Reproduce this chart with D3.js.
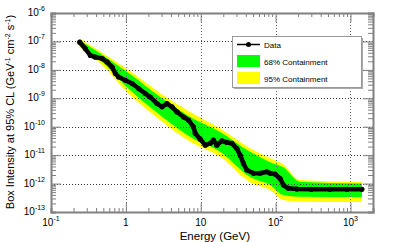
<!DOCTYPE html>
<html>
<head>
<meta charset="utf-8">
<script src="https://cdn.jsdelivr.net/npm/d3@7"></script>
<style>
  body { margin: 0; background: #fff; }
  text { font-family: "Liberation Sans", Arial, sans-serif; }
</style>
</head>
<body>
<div id="chart"></div>
<script>
// data points (energy in GeV, intensity)
var energy = [0.242, 0.288, 0.336, 0.392, 0.482, 0.561, 0.655, 0.724, 0.80, 0.985,
  1.21, 1.48, 1.82, 2.12, 2.61, 3.04, 3.54, 4.13, 4.82, 5.9,
  6.88, 8.0, 8.45, 9.85, 11.5, 13.4, 14.8, 16.4, 19.2, 22.3,
  26.1, 30.4, 33.6, 37.2, 41.3, 50.6, 62.1, 76.3, 84.5, 98.4,
  115, 127, 148, 192, 300, 533, 900, 1420]
var intensity = [9.4e-8, 5.5e-8, 3.2e-8, 2.8e-8, 2.5e-8, 1.9e-8, 1.25e-8, 7.4e-9, 5.6e-9, 4.3e-9,
  3.3e-9, 2.2e-9, 1.46e-9, 1.1e-9, 6.5e-10, 5.0e-10, 6.5e-10, 5.0e-10, 3.3e-10, 2.2e-10,
  1.7e-10, 9.8e-11, 5.8e-11, 3.6e-11, 2.25e-11, 2.6e-11, 3.4e-11, 2.25e-11, 3.2e-11, 2.8e-11,
  2.6e-11, 1.7e-11, 1.0e-11, 5.1e-12, 3.0e-12, 2.3e-12, 2.3e-12, 2.6e-12, 2.3e-12, 2.15e-12,
  1.5e-12, 8.9e-13, 6.8e-13, 6.4e-13, 6.3e-13, 6.25e-13, 6.25e-13, 6.25e-13]

// containment bands
var bandEnergy = [0.24, 0.457, 1.148, 2.884, 7.24, 18.2, 45.7, 84.5, 126, 212, 1420]
var yellowHi = [1.27e-7, 4.46e-8, 8.85e-9, 1.5e-9, 3.3e-10, 8.6e-11, 1.76e-11, 7.85e-12, 4.83e-12, 1.33e-12, 1.13e-12]
var greenHi  = [1.13e-7, 3.79e-8, 6.95e-9, 1.11e-9, 2.21e-10, 6.58e-11, 1.31e-11, 5.68e-12, 3.79e-12, 1.16e-12, 1.0e-12]
var greenLo  = [7.24e-8, 2.15e-8, 1.91e-9, 2.54e-10, 4.38e-11, 1.31e-11, 1.7e-12, 8.85e-13, 3.94e-13, 3.44e-13, 3.36e-13]
var yellowLo = [6.15e-8, 1.69e-8, 1.27e-9, 1.69e-10, 2.93e-11, 8.7e-12, 1.1e-12, 5.9e-13, 2.64e-13, 2.3e-13, 2.24e-13]

var xTicks = [0.1, 1, 10, 100, 1000]
var xLabels = [["10", "-1"], ["1", ""], ["10", ""], ["10", "2"], ["10", "3"]]
var yTicks = [1e-6, 1e-7, 1e-8, 1e-9, 1e-10, 1e-11, 1e-12, 1e-13]
var yLabels = ["-6", "-7", "-8", "-9", "-10", "-11", "-12", "-13"]
var legendNames = ["Data", "68% Containment", "95% Containment"]

var W = 415, H = 242
var pL = 51, pR = 373, pT = 13, pB = 212

var svg = d3.select("#chart").append("svg")
  .attr("width", W).attr("height", H)

var x = d3.scaleLog().domain([0.1, 2000]).range([pL, pR])
var y = d3.scaleLog().domain([1e-13, 1e-6]).range([pB, pT])

// bands
var rows = bandEnergy.map(function(e, i) {
  return {e: e, yh: yellowHi[i], gh: greenHi[i], gl: greenLo[i], yl: yellowLo[i]}
})
var area = function(hi, lo) {
  return d3.area().curve(d3.curveMonotoneX)
    .x(function(d) { return x(d.e) })
    .y0(function(d) { return y(d[lo]) })
    .y1(function(d) { return y(d[hi]) })
}
svg.append("path").datum(rows).attr("d", area("yh", "yl")).attr("fill", "#ffff00")
svg.append("path").datum(rows).attr("d", area("gh", "gl")).attr("fill", "#00ff00")

// grid
var grid = svg.append("g")
grid.selectAll(".gx").data(xTicks.slice(1)).enter().append("line")
  .attr("x1", function(d) { return Math.round(x(d)) + 0.5 })
  .attr("x2", function(d) { return Math.round(x(d)) + 0.5 })
  .attr("y1", pT).attr("y2", pB)
  .attr("stroke", "#666").attr("stroke-width", 1).attr("stroke-dasharray", "1,2")
grid.selectAll(".gy").data(yTicks.slice(1, -1)).enter().append("line")
  .attr("y1", function(d) { return Math.round(y(d)) + 0.5 })
  .attr("y2", function(d) { return Math.round(y(d)) + 0.5 })
  .attr("x1", pL).attr("x2", pR)
  .attr("stroke", "#333").attr("stroke-width", 1).attr("stroke-dasharray", "1,2")

// data
var pts = energy.map(function(e, i) { return [e, intensity[i]] })
svg.append("path").datum(pts)
  .attr("d", d3.line().x(function(d) { return x(d[0]) }).y(function(d) { return y(d[1]) }))
  .attr("fill", "none").attr("stroke", "#000").attr("stroke-width", 4.5)
  .attr("stroke-linejoin", "round").attr("stroke-linecap", "round")
svg.selectAll(".pt").data(pts).enter().append("circle")
  .attr("cx", function(d) { return x(d[0]) })
  .attr("cy", function(d) { return y(d[1]) })
  .attr("r", 2.6).attr("fill", "#000")

// axes: ticks inward on all four sides
var axisColor = "#808080"
var bottomAx = svg.append("g").attr("transform", "translate(0," + pB + ")")
  .call(d3.axisTop(x).ticks(20, "").tickSizeOuter(0).tickSize(4))
var topAx = svg.append("g").attr("transform", "translate(0," + pT + ")")
  .call(d3.axisBottom(x).ticks(20, "").tickSizeOuter(0).tickSize(4))
var leftAx = svg.append("g").attr("transform", "translate(" + pL + ",0)")
  .call(d3.axisRight(y).ticks(40, "").tickSizeOuter(0).tickSize(5))
var rightAx = svg.append("g").attr("transform", "translate(" + pR + ",0)")
  .call(d3.axisLeft(y).ticks(40, "").tickSizeOuter(0).tickSize(5))

;[bottomAx, topAx, leftAx, rightAx].forEach(function(g) {
  g.selectAll("text").remove()
  g.select(".domain").attr("stroke", axisColor).attr("stroke-width", 2)
  g.selectAll(".tick line").attr("stroke", axisColor).attr("stroke-width", 1)
})
var isMajor = function(d, list) {
  return list.some(function(t) { return Math.abs(Math.log10(d / t)) < 1e-6 })
}
// longer major ticks at decades
bottomAx.selectAll(".tick line").attr("y2", function(d) { return isMajor(d, xTicks) ? -9 : -4 })
topAx.selectAll(".tick line").attr("y2", function(d) { return isMajor(d, xTicks) ? 9 : 4 })
leftAx.selectAll(".tick line").attr("x2", function(d) { return isMajor(d, yTicks) ? 10 : 5 })
rightAx.selectAll(".tick line").attr("x2", function(d) { return isMajor(d, yTicks) ? -10 : -5 })

// x tick labels
xTicks.forEach(function(t, i) {
  var tx = svg.append("text").attr("x", x(t)).attr("y", 226)
    .attr("text-anchor", "middle").attr("font-size", 10).attr("fill", "#000")
  tx.append("tspan").text(xLabels[i][0])
  if (xLabels[i][1]) tx.append("tspan").attr("dy", -5).attr("font-size", 7).text(xLabels[i][1])
})

// y tick labels
yTicks.forEach(function(t, i) {
  var ty = svg.append("text").attr("x", 45).attr("y", y(t) + 3)
    .attr("text-anchor", "end").attr("font-size", 10).attr("fill", "#000")
  ty.append("tspan").text("10")
  ty.append("tspan").attr("dy", -5).attr("font-size", 7).text(yLabels[i])
})

// axis titles
svg.append("text").attr("x", 250).attr("y", 240).attr("text-anchor", "end")
  .attr("font-size", 11.5).text("Energy (GeV)")

var yt = svg.append("text").attr("transform", "translate(14,112) rotate(-90)")
  .attr("text-anchor", "middle").attr("font-size", 11)
yt.append("tspan").text("Box Intensity at 95% CL (GeV")
yt.append("tspan").attr("dy", -4).attr("font-size", 7).text("-1")
yt.append("tspan").attr("dy", 4).text(" cm")
yt.append("tspan").attr("dy", -4).attr("font-size", 7).text("-2")
yt.append("tspan").attr("dy", 4).text(" s")
yt.append("tspan").attr("dy", -4).attr("font-size", 7).text("-1")
yt.append("tspan").attr("dy", 4).text(")")

// legend
var lg = svg.append("g")
lg.append("rect").attr("x", 234).attr("y", 38).attr("width", 129).attr("height", 51).attr("fill", "#aaa")
lg.append("rect").attr("x", 232.5).attr("y", 36.5).attr("width", 129).attr("height", 51)
  .attr("fill", "#fff").attr("stroke", "#999")
lg.append("line").attr("x1", 237).attr("x2", 260).attr("y1", 44.5).attr("y2", 44.5)
  .attr("stroke", "#000").attr("stroke-width", 1.5)
lg.append("circle").attr("cx", 248.5).attr("cy", 44.5).attr("r", 2.5).attr("fill", "#000")
lg.append("rect").attr("x", 237).attr("y", 55).attr("width", 23).attr("height", 12).attr("fill", "#00ff00")
lg.append("rect").attr("x", 237).attr("y", 72).attr("width", 23).attr("height", 12).attr("fill", "#ffff00")
legendNames.forEach(function(n, i) {
  lg.append("text").attr("x", 264).attr("y", 47.5 + i * 17.3).attr("font-size", 8).text(n)
})
</script>
</body>
</html>
